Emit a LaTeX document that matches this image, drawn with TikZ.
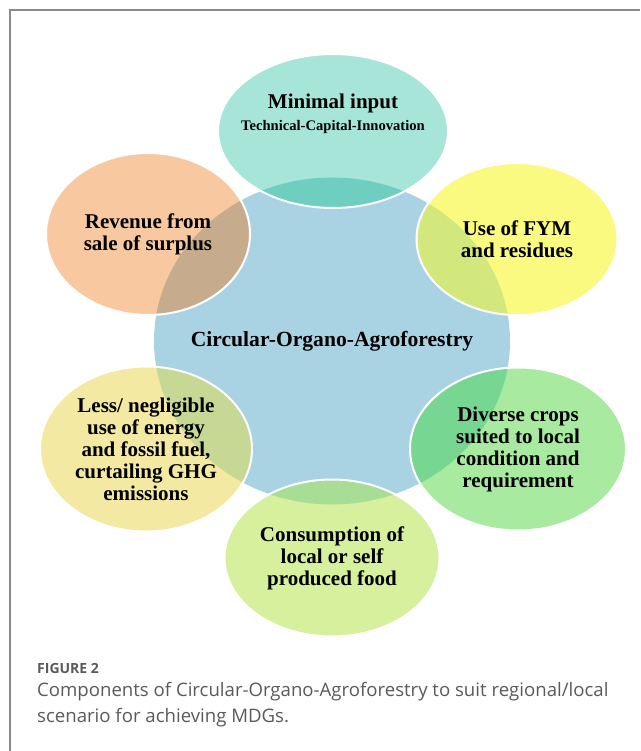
\documentclass[tikz,border=0pt]{standalone}
\usepackage{fontspec}
\setmainfont{Liberation Serif}
\newfontfamily\capfont{Open Sans}
\usepackage{xcolor}
\usetikzlibrary{shapes.geometric}
\definecolor{hubblue}{HTML}{A9D3E3}
\definecolor{tealfill}{HTML}{A6E5D7}
\definecolor{tealolap}{HTML}{6ECFC1}
\definecolor{peachfill}{HTML}{F8C9A0}
\definecolor{peacholap}{HTML}{C6AC8C}
\definecolor{lemonfill}{HTML}{FAFA80}
\definecolor{lemonolap}{HTML}{D3E87C}
\definecolor{mintfill}{HTML}{A7EAA0}
\definecolor{mintolap}{HTML}{78D693}
\definecolor{strawfill}{HTML}{F4E9A2}
\definecolor{strawolap}{HTML}{C6D893}
\definecolor{limefill}{HTML}{D6F09D}
\definecolor{limeolap}{HTML}{A8DD96}
\definecolor{framegray}{HTML}{8A8A8A}
\definecolor{capgray}{HTML}{5A5A5A}

\begin{document}
\begin{tikzpicture}[
  x=1pt, y=-1pt,
  hub/.style={ellipse, fill=hubblue, inner sep=0pt,
    minimum width=356pt, minimum height=327pt},
  petal/.style={ellipse, draw=white, line width=2pt, inner sep=0pt},
  olap/.style={path picture={\fill[#1] (hub.center) ellipse [x radius=178pt, y radius=163.5pt];}},
  lbl/.style={anchor=center, align=center, inner sep=0pt,
    font=\fontsize{21}{22}\selectfont\bfseries},
  capt/.style={anchor=north west, inner sep=0pt, align=left, text=capgray}
]
\useasboundingbox (0,0) rectangle (640,751);
\draw[framegray, line width=2pt] (640,10) -- (10,10) -- (10,751);

% centre and the six components around it
\node[hub, label={[lbl, font=\fontsize{21.6}{22}\selectfont\bfseries]center:Circular-Organo-Agroforestry}] (hub) at (332,341) {};

\node[petal, fill=tealfill, olap=tealolap, minimum width=230pt, minimum height=154pt,
  label={[lbl, yshift=17pt]center:{Minimal input\\{\fontsize{14.6}{15}\selectfont Technical-Capital-Innovation}}}] (input) at (333,131) {};
\node[petal, fill=lemonfill, olap=lemonolap, minimum width=201pt, minimum height=152pt,
  label={[lbl]center:{Use of FYM\\and residues}}] (fym) at (517,239) {};
\node[petal, fill=mintfill, olap=mintolap, minimum width=216pt, minimum height=163pt,
  label={[lbl]center:{Diverse crops\\suited to local\\condition and\\requirement}}] (crops) at (518,449) {};
\node[petal, fill=limefill, olap=limeolap, minimum width=215pt, minimum height=157pt,
  label={[lbl]center:{Consumption of\\local or self\\produced food}}] (food) at (332,558) {};
\node[petal, fill=strawfill, olap=strawolap, minimum width=212pt, minimum height=165pt,
  label={[lbl]center:{Less/ negligible\\use of energy\\and fossil fuel,\\curtailing GHG\\emissions}}] (energy) at (146,449) {};
\node[petal, fill=peachfill, olap=peacholap, minimum width=204pt, minimum height=162pt,
  label={[lbl]center:{Revenue from\\sale of surplus}}] (revenue) at (148,234) {};

% caption
\node[capt, font=\capfont\bfseries\fontsize{14}{16}\selectfont] (figno) at (37,663) {FIGURE 2};
\node[capt, font=\capfont\fontsize{18.6}{26}\selectfont] (caption) at (37,682)
  {Components of Circular-Organo-Agroforestry to suit regional/local\\scenario for achieving MDGs.};
\end{tikzpicture}
\end{document}
